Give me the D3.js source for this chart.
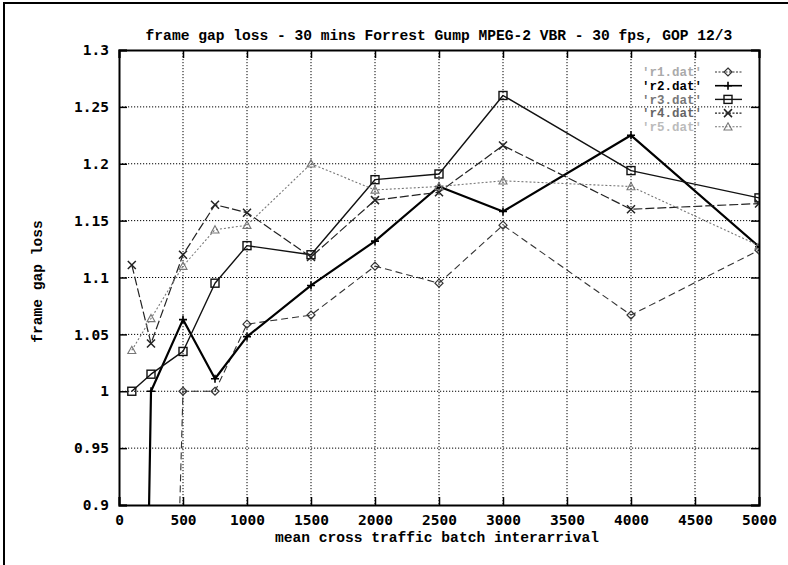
<!DOCTYPE html>
<html><head><meta charset="utf-8">
<script src="https://cdn.jsdelivr.net/npm/d3@7"></script>
<style>
html,body{margin:0;padding:0;background:#fff;}
svg{display:block;}
</style></head>
<body><svg id="c" width="788" height="565"></svg>
<script>
const xValues = [100, 250, 500, 750, 1000, 1500, 2000, 2500, 3000, 4000, 5000];
const r1 = [0, 0, 1.0, 1.0, 1.059, 1.067, 1.11, 1.095, 1.146, 1.067, 1.124];
const r2 = [0, 1.0, 1.063, 1.011, 1.048, 1.093, 1.132, 1.18, 1.158, 1.225, 1.127];
const r3 = [1.0, 1.015, 1.035, 1.095, 1.128, 1.12, 1.186, 1.191, 1.26, 1.194, 1.17];
const r4 = [1.111, 1.042, 1.12, 1.164, 1.157, 1.118, 1.168, 1.175, 1.216, 1.16, 1.165];
const r5 = [1.036, 1.064, 1.11, 1.142, 1.146, 1.2, 1.177, 1.18, 1.185, 1.18, 1.128];
const seriesNames = ["'r1.dat'", "'r2.dat'", "'r3.dat'", "'r4.dat'", "'r5.dat'"];
const xTicks = [0, 500, 1000, 1500, 2000, 2500, 3000, 3500, 4000, 4500, 5000];
const yTicks = [0.9, 0.95, 1.0, 1.05, 1.1, 1.15, 1.2, 1.25, 1.3];
const yTickLabels = ["0.9", "0.95", "1", "1.05", "1.1", "1.15", "1.2", "1.25", "1.3"];
const title = "frame gap loss - 30 mins Forrest Gump MPEG-2 VBR - 30 fps, GOP 12/3";
const xTitle = "mean cross traffic batch interarrival";
const yTitle = "frame gap loss";

const svg = d3.select("#c");
const L = 119, R = 759, T = 50, B = 505;
const x = d3.scaleLinear().domain([0, 5000]).range([L, R]);
const y = d3.scaleLinear().domain([0.9, 1.3]).range([B, T]);
const mono = "'Liberation Mono', 'DejaVu Sans Mono', monospace";
const sansMono = "'DejaVu Sans Mono', 'Liberation Mono', monospace";

// outer frame
svg.append("path").attr("d", "M4,565V3H788").attr("fill", "none").attr("stroke", "#000").attr("stroke-width", 2);

// grid
const grid = svg.append("g");
xTicks.slice(1, -1).forEach(t => grid.append("line").attr("x1", x(t)).attr("x2", x(t)).attr("y1", T).attr("y2", B)
  .attr("stroke", "#000").attr("stroke-width", 1).attr("stroke-dasharray", "1.2,1.8"));
yTicks.slice(1, -1).forEach(t => grid.append("line").attr("x1", L).attr("x2", R).attr("y1", y(t)).attr("y2", y(t))
  .attr("stroke", "#000").attr("stroke-width", 1).attr("stroke-dasharray", "1.2,1.8"));

// axes with inward ticks
const axB = svg.append("g").attr("transform", `translate(0,${B})`)
  .call(d3.axisBottom(x).tickValues(xTicks).tickSize(-8).tickPadding(10).tickFormat(d3.format("d")));
const axT = svg.append("g").attr("transform", `translate(0,${T})`)
  .call(d3.axisTop(x).tickValues(xTicks).tickSize(-8).tickFormat(""));
const axL = svg.append("g").attr("transform", `translate(${L},0)`)
  .call(d3.axisLeft(y).tickValues(yTicks).tickSize(-8).tickPadding(10).tickFormat((d, i) => yTickLabels[i]));
const axR = svg.append("g").attr("transform", `translate(${R},0)`)
  .call(d3.axisRight(y).tickValues(yTicks).tickSize(-8).tickFormat(""));
[axB, axT, axL, axR].forEach(a => {
  a.select(".domain").attr("stroke", "#000").attr("stroke-width", 2);
  a.selectAll(".tick line").attr("stroke", "#000").attr("stroke-width", 1.5);
  a.selectAll("text").attr("fill", "#000").attr("font-family", sansMono).attr("font-weight", "bold").attr("font-size", "14.5px");
});
axB.selectAll("text").attr("dy", "0.71em").attr("y", 10);

// titles
svg.append("text").attr("x", (L + R) / 2).attr("y", 40).attr("text-anchor", "middle")
  .attr("font-family", mono).attr("font-weight", "bold").attr("font-size", "14.6px").text(title);
svg.append("text").attr("x", (L + R) / 2 - 2).attr("y", 542).attr("text-anchor", "middle")
  .attr("font-family", mono).attr("font-weight", "bold").attr("font-size", "14.6px").text(xTitle);
svg.append("text").attr("transform", `translate(42,${(T + B) / 2 + 4}) rotate(-90)`).attr("text-anchor", "middle")
  .attr("font-family", mono).attr("font-weight", "bold").attr("font-size", "14.6px").text(yTitle);

// series
const styles = [
  {data: r1, stroke: "#333", width: 1.1, dash: "7,4", marker: "diamond", text: "#aaa"},
  {data: r2, stroke: "#000", width: 2.2, dash: null, marker: "plus", text: "#000"},
  {data: r3, stroke: "#111", width: 1.4, dash: null, marker: "box", text: "#777"},
  {data: r4, stroke: "#222", width: 1.2, dash: "9,3", marker: "cross", text: "#666"},
  {data: r5, stroke: "#777", width: 1.1, dash: "2,2", marker: "tri", text: "#bbb"}
];

svg.append("clipPath").attr("id", "clip").append("rect").attr("x", L).attr("y", T).attr("width", R - L).attr("height", B - T);
const plot = svg.append("g").attr("clip-path", "url(#clip)");
const line = d3.line().x(d => x(d[0])).y(d => y(d[1]));

function drawMarker(g, type, cx, cy, color) {
  const s = 4;
  if (type === "diamond") g.append("path").attr("d", `M${cx},${cy - s}L${cx + s},${cy}L${cx},${cy + s}L${cx - s},${cy}Z`).attr("fill", "none").attr("stroke", color).attr("stroke-width", 1.2);
  else if (type === "plus") g.append("path").attr("d", `M${cx - s},${cy}H${cx + s}M${cx},${cy - s}V${cy + s}`).attr("stroke", color).attr("stroke-width", 1.6);
  else if (type === "box") g.append("rect").attr("x", cx - s).attr("y", cy - s).attr("width", 2 * s).attr("height", 2 * s).attr("fill", "none").attr("stroke", color).attr("stroke-width", 1.4);
  else if (type === "cross") g.append("path").attr("d", `M${cx - s},${cy - s}L${cx + s},${cy + s}M${cx - s},${cy + s}L${cx + s},${cy - s}`).attr("stroke", color).attr("stroke-width", 1.5);
  else if (type === "tri") g.append("path").attr("d", `M${cx},${cy - s}L${cx + s},${cy + s * 0.8}L${cx - s},${cy + s * 0.8}Z`).attr("fill", "none").attr("stroke", color).attr("stroke-width", 1.1);
}

styles.forEach(st => {
  const pts = xValues.map((xv, i) => [xv, st.data[i]]);
  const p = plot.append("path").datum(pts).attr("d", line).attr("fill", "none")
    .attr("stroke", st.stroke).attr("stroke-width", st.width).attr("stroke-linejoin", "round");
  if (st.dash) p.attr("stroke-dasharray", st.dash);
  pts.filter(d => d[1] >= 0.9 && d[1] <= 1.3).forEach(d => drawMarker(plot, st.marker, x(d[0]), y(d[1]), st.stroke));
});

// legend
const leg = svg.append("g");
styles.forEach((st, i) => {
  const ly = 72 + i * 13.7;
  leg.append("text").attr("x", 702).attr("y", ly).attr("dy", "0.35em").attr("text-anchor", "end")
    .attr("font-family", mono).attr("font-weight", "bold").attr("font-size", "12.5px").attr("fill", st.text).text(seriesNames[i]);
  const l = leg.append("line").attr("x1", 715).attr("x2", 742).attr("y1", ly).attr("y2", ly)
    .attr("stroke", st.stroke).attr("stroke-width", Math.min(st.width, 1.6));
  if (st.dash) l.attr("stroke-dasharray", "2,1.5");
  drawMarker(leg, st.marker, 728, ly, st.stroke);
});
</script>
</body></html>
